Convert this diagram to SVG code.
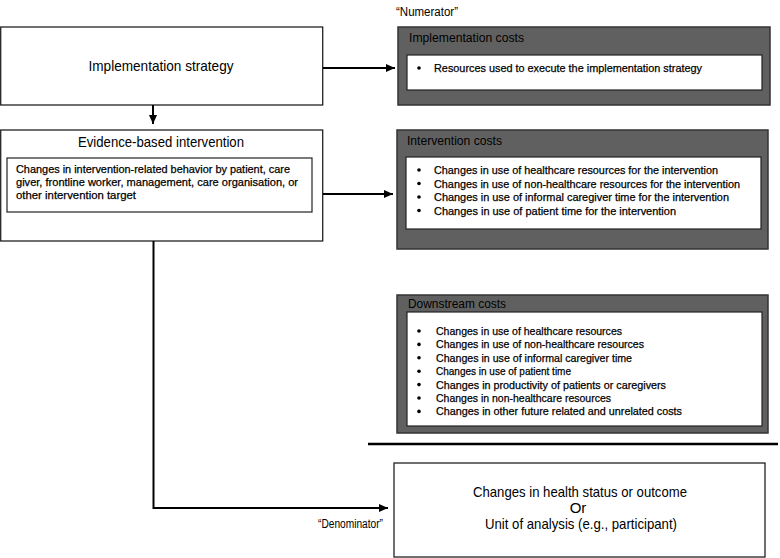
<svg xmlns="http://www.w3.org/2000/svg" width="780" height="558" viewBox="0 0 780 558">
<style>
  text { font-family: "Liberation Sans", Arial, sans-serif; fill: #000; }
  .big { font-size: 15px; }
  .mid { font-size: 12.5px; }
  .sm { font-size: 11.5px; stroke: #000; stroke-width: 0.25; }
  .wbox { fill: #fff; stroke: #222; stroke-width: 1.3; }
  .gbox { fill: #606060; stroke: #333; stroke-width: 1.5; }
  .ibox { fill: #fff; stroke: #222; stroke-width: 1.2; }
  .conn { fill: none; stroke: #000; stroke-width: 2; }
  .bul { fill: #000; }
</style>
<defs>
  <marker id="arr" markerWidth="10" markerHeight="10" refX="9" refY="5" orient="auto" markerUnits="userSpaceOnUse">
    <path d="M0,1 L9,5 L0,9 Z" fill="#000"/>
  </marker>
</defs>
<rect width="780" height="558" fill="#fff"/>

<g id="numerator-label">
  <text class="mid" x="396" y="16" textLength="62" lengthAdjust="spacingAndGlyphs">“Numerator”</text>
</g>

<g id="implementation-strategy">
  <rect class="wbox" x="0.7" y="27" width="322" height="78"/>
  <text class="big" x="161" y="71" text-anchor="middle" textLength="145" lengthAdjust="spacingAndGlyphs">Implementation strategy</text>
</g>

<g id="evidence-based-intervention">
  <rect class="wbox" x="0.7" y="130" width="322" height="111"/>
  <text class="big" x="161" y="147" text-anchor="middle" textLength="166" lengthAdjust="spacingAndGlyphs">Evidence-based intervention</text>
  <rect class="ibox" x="7" y="158" width="305" height="54"/>
  <text class="sm" x="16" y="173" textLength="274" lengthAdjust="spacingAndGlyphs">Changes in intervention-related behavior by patient, care</text>
  <text class="sm" x="16" y="186" textLength="282" lengthAdjust="spacingAndGlyphs">giver, frontline worker, management, care organisation, or</text>
  <text class="sm" x="16" y="199" textLength="120" lengthAdjust="spacingAndGlyphs">other intervention target</text>
</g>

<g id="implementation-costs">
  <rect class="gbox" x="398" y="27" width="372" height="78"/>
  <text class="mid" x="409" y="42" textLength="115" lengthAdjust="spacingAndGlyphs">Implementation costs</text>
  <rect class="ibox" x="407" y="55" width="355" height="35"/>
  <circle class="bul" cx="419" cy="68" r="1.8"/>
  <text class="sm" x="434" y="72" textLength="268" lengthAdjust="spacingAndGlyphs">Resources used to execute the implementation strategy</text>
</g>

<g id="intervention-costs">
  <rect class="gbox" x="397" y="130" width="371" height="119"/>
  <text class="mid" x="407" y="145" textLength="95" lengthAdjust="spacingAndGlyphs">Intervention costs</text>
  <rect class="ibox" x="406" y="157" width="355" height="72"/>
  <circle class="bul" cx="419" cy="170" r="1.8"/>
  <circle class="bul" cx="419" cy="183.5" r="1.8"/>
  <circle class="bul" cx="419" cy="197" r="1.8"/>
  <circle class="bul" cx="419" cy="210.5" r="1.8"/>
  <text class="sm" x="434" y="174" textLength="284" lengthAdjust="spacingAndGlyphs">Changes in use of healthcare resources for the intervention</text>
  <text class="sm" x="434" y="187.5" textLength="306" lengthAdjust="spacingAndGlyphs">Changes in use of non-healthcare resources for the intervention</text>
  <text class="sm" x="434" y="201" textLength="295" lengthAdjust="spacingAndGlyphs">Changes in use of informal caregiver time for the intervention</text>
  <text class="sm" x="434" y="214.5" textLength="242" lengthAdjust="spacingAndGlyphs">Changes in use of patient time for the intervention</text>
</g>

<g id="downstream-costs">
  <rect class="gbox" x="397" y="295" width="371" height="138"/>
  <text class="mid" x="408" y="308" textLength="98" lengthAdjust="spacingAndGlyphs">Downstream costs</text>
  <rect class="ibox" x="407" y="312" width="355" height="114"/>
  <circle class="bul" cx="419" cy="331" r="1.8"/>
  <circle class="bul" cx="419" cy="344.4" r="1.8"/>
  <circle class="bul" cx="419" cy="357.8" r="1.8"/>
  <circle class="bul" cx="419" cy="371.2" r="1.8"/>
  <circle class="bul" cx="419" cy="384.6" r="1.8"/>
  <circle class="bul" cx="419" cy="398" r="1.8"/>
  <circle class="bul" cx="419" cy="411.4" r="1.8"/>
  <text class="sm" x="436" y="335" textLength="186" lengthAdjust="spacingAndGlyphs">Changes in use of healthcare resources</text>
  <text class="sm" x="436" y="348.4" textLength="208" lengthAdjust="spacingAndGlyphs">Changes in use of non-healthcare resources</text>
  <text class="sm" x="436" y="361.8" textLength="196" lengthAdjust="spacingAndGlyphs">Changes in use of informal caregiver time</text>
  <text class="sm" x="436" y="375.2" textLength="135" lengthAdjust="spacingAndGlyphs">Changes in use of patient time</text>
  <text class="sm" x="436" y="388.6" textLength="230" lengthAdjust="spacingAndGlyphs">Changes in productivity of patients or caregivers</text>
  <text class="sm" x="436" y="402" textLength="175" lengthAdjust="spacingAndGlyphs">Changes in non-healthcare resources</text>
  <text class="sm" x="436" y="415.4" textLength="246" lengthAdjust="spacingAndGlyphs">Changes in other future related and unrelated costs</text>
</g>

<g id="separator">
  <line x1="368" y1="444" x2="778" y2="444" stroke="#000" stroke-width="2.5"/>
</g>

<g id="outcome">
  <rect class="wbox" x="394" y="463" width="371" height="94"/>
  <text class="big" x="580" y="497" text-anchor="middle" textLength="214" lengthAdjust="spacingAndGlyphs">Changes in health status or outcome</text>
  <text class="big" x="578" y="513" text-anchor="middle">Or</text>
  <text class="big" x="581" y="529" text-anchor="middle" textLength="192" lengthAdjust="spacingAndGlyphs">Unit of analysis (e.g., participant)</text>
</g>

<g id="denominator-label">
  <text class="mid" x="383" y="528" text-anchor="end" textLength="65" lengthAdjust="spacingAndGlyphs">“Denominator”</text>
</g>

<g id="connectors">
  <line class="conn" x1="323" y1="68" x2="395" y2="68" marker-end="url(#arr)"/>
  <line class="conn" x1="153" y1="105" x2="153" y2="124" marker-end="url(#arr)"/>
  <line class="conn" x1="323" y1="194" x2="393" y2="194" marker-end="url(#arr)"/>
  <polyline class="conn" points="153.5,241 153.5,508 388,508" stroke-width="3" marker-end="url(#arr)"/>
</g>
</svg>
